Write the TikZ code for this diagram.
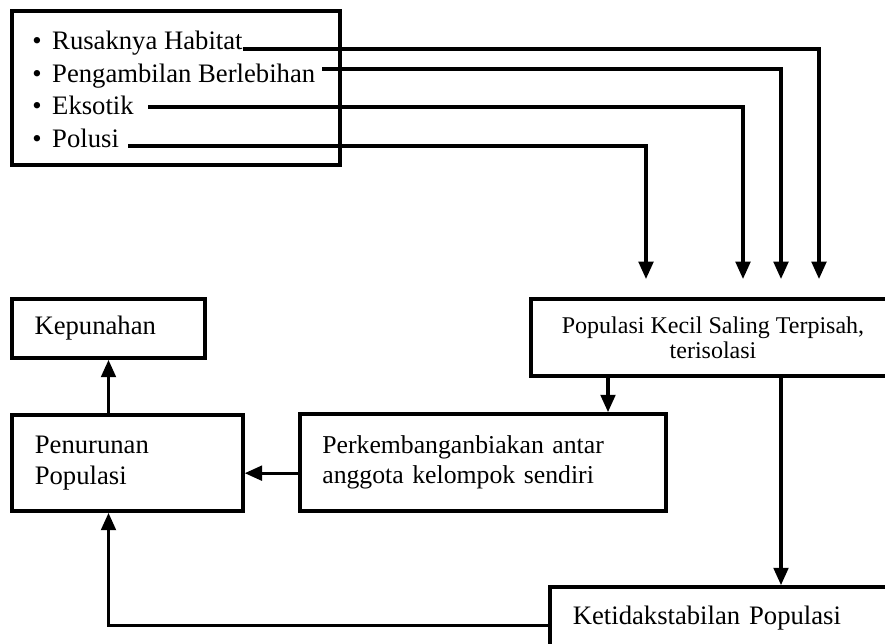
\documentclass[tikz,border=0pt]{standalone}
\usepackage{fontspec}
\setmainfont{Liberation Serif}
\usetikzlibrary{arrows.meta,positioning,calc}

\begin{document}
\begin{tikzpicture}[x=0.75pt,y=-0.75pt,
box/.style={draw,line width=2.8pt,inner ysep=0pt,font=\fontsize{20}{23.25}\selectfont},
lbox/.style={box,align=left,inner xsep=17pt},
item/.style={anchor=base west,inner sep=0pt,font=\fontsize{20}{24}\selectfont},
link/.style={line width=2.3pt,-{Triangle[width=11pt,length=13pt]}}]
\useasboundingbox (0,0) rectangle (885,643);
\clip (0,0) rectangle (885,643);
% sources
\node[box,minimum width=246pt,minimum height=115.5pt] (src) at (176,88) {};
\foreach \T/\y/\txt in {1/49/Rusaknya Habitat,2/82/Pengambilan Berlebihan,3/114/Eksotik,4/147/Polusi}
  \node[item] (i\T) at (32,\y) {\makebox[15pt][l]{\textbullet}\txt};
\coordinate (s1) at (243,49);
\coordinate (s2) at (322,69);
\coordinate (s3) at (148,107);
\coordinate (s4) at (128,146);
% boxes
\node[box,align=center,minimum width=273pt,minimum height=57.75pt,
  font=\fontsize{18}{19}\selectfont] (pk) at (713,337.5)
  {Populasi Kecil Saling Terpisah,\\terisolasi};
\node[lbox,text width=111pt,minimum height=44.25pt] (kep) at (108.5,328.5) {Kepunahan};
\node[lbox,text width=139pt,minimum height=72pt] (pen) at (127.5,463) {Penurunan\\Populasi};
\node[lbox,text width=241pt,minimum height=72.75pt,font=\fontsize{19.3}{22.5}\selectfont] (perk) at (483,462.5)
  {Perkembanganbiakan antar\\anggota kelompok sendiri};
\node[lbox,text width=232pt,minimum height=47.25pt] (ket) at (727.5,618.5)
  {Ketidakstabilan Populasi};
% causes into the small population
\foreach \T/\x in {1/819,2/781,3/743,4/646}
{\coordinate (e\T) at (\x,279);
 \draw[link] (s\T) -| (e\T);}
\coordinate (a1) at (608,0);
\coordinate (a2) at (781,0);
\draw[link] (pk.south -| a1) -- (perk.north -| a1);
\draw[link] (pk.south -| a2) -- (ket.north -| a2);
\draw[link] ([yshift=-8pt]perk.west) -- ([yshift=-8pt]perk.west -| pen.east);
\draw[link] (pen.north -| kep.south) -- (kep.south);
\draw[link] ([yshift=-5pt]ket.west) -| (pen.south -| kep.south);
\end{tikzpicture}
\end{document}
